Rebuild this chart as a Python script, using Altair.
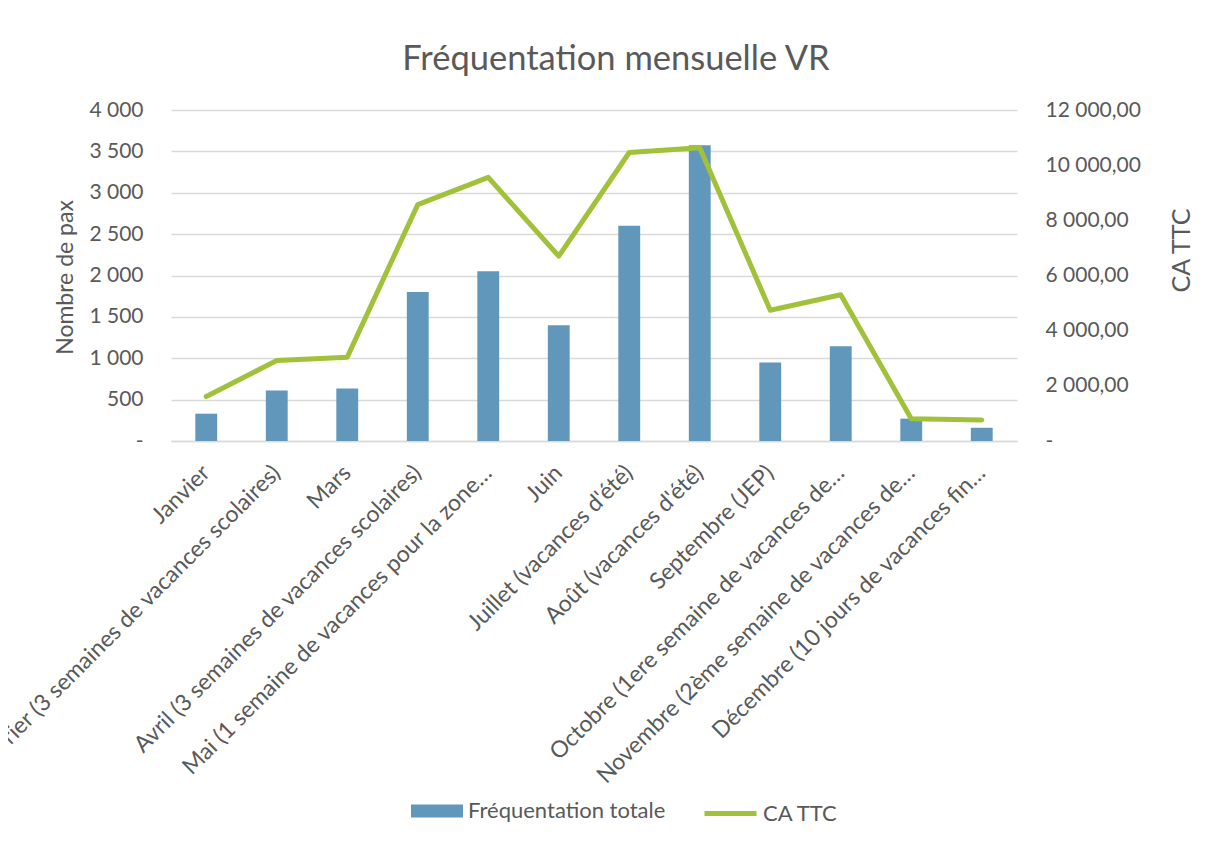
import altair as alt
import pandas as pd

months = [
    "Janvier",
    "Février (3 semaines de vacances scolaires)",
    "Mars",
    "Avril (3 semaines de vacances scolaires)",
    "Mai (1 semaine de vacances pour la zone…",
    "Juin",
    "Juillet (vacances d'été)",
    "Août (vacances d'été)",
    "Septembre (JEP)",
    "Octobre (1ere semaine de vacances de…",
    "Novembre (2ème semaine de vacances de…",
    "Décembre (10 jours de vacances fin…",
]
pax = [330, 610, 635, 1800, 2050, 1400, 2600, 3575, 950, 1145, 270, 160]
ca_ttc = [1610, 2920, 3040, 8570, 9560, 6700, 10460, 10630, 4740, 5300, 810, 765]
left_ticks = [0, 500, 1000, 1500, 2000, 2500, 3000, 3500, 4000]
right_ticks = [0, 2000, 4000, 6000, 8000, 10000, 12000]
series = ["Fréquentation totale", "CA TTC"]

df = pd.DataFrame({"mois": months, "pax": pax, "ca": ca_ttc})

FONT = "Lato"
GREY = "#595959"
BAR = "#6097ba"
LINE = "#a2c13b"

x_enc = alt.X(
    "mois:N",
    sort=None,
    title=None,
    scale=alt.Scale(paddingInner=0.69, paddingOuter=0.345),
    axis=alt.Axis(
        labelAngle=315,
        labelAlign="right",
        labelBaseline="middle",
        labelFontSize=23,
        labelColor=GREY,
        labelPadding=28,
        labelLimit=1000,
        ticks=False,
        domainColor="#d9d9d9",
        domainWidth=1.5,
        labelOverlap=False,
    ),
)

bars = alt.Chart(df).transform_calculate(serie=f"'{series[0]}'").mark_bar().encode(
    x=x_enc,
    y=alt.Y(
        "pax:Q",
        scale=alt.Scale(domain=[0, 4000], nice=False),
        axis=alt.Axis(
            values=left_ticks,
            title="Nombre de pax",
            titleFontSize=23,
            titleFontWeight="normal",
            titleColor=GREY,
            titleAngle=270,
            titleX=-106,
            titleY=167,
            titleAlign="center",
            titleBaseline="middle",
            labelExpr="datum.value == 0 ? '-' : replace(format(datum.value, ','), ',', ' ')",
            labelFontSize=21,
            labelColor=GREY,
            labelPadding=28,
            ticks=False,
            domain=False,
            grid=True,
            gridColor="#d9d9d9",
            gridWidth=1.5,
        ),
    ),
    fill=alt.Fill(
        "serie:N",
        scale=alt.Scale(domain=[series[0]], range=[BAR]),
        legend=alt.Legend(
            title=None,
            orient="none",
            legendX=240,
            legendY=675,
            symbolType="M-1,-0.25H1V0.25H-1Z",
            symbolSize=2704,
            symbolStrokeWidth=0,
            labelFontSize=22,
            labelColor=GREY,
            labelOffset=5,
            labelLimit=400,
            padding=0,
        ),
    ),
)

line = alt.Chart(df).transform_calculate(serie=f"'{series[1]}'").mark_line(
    strokeWidth=5, strokeCap="round", strokeJoin="round"
).encode(
    x=alt.X("mois:N", sort=None),
    y=alt.Y(
        "ca:Q",
        scale=alt.Scale(domain=[0, 12000], nice=False),
        axis=alt.Axis(
            orient="right",
            values=right_ticks,
            title="CA TTC",
            titleFontSize=25,
            titleFontWeight="normal",
            titleColor=GREY,
            titleAngle=270,
            titleX=164,
            titleY=140,
            titleAlign="center",
            titleBaseline="middle",
            labelExpr="datum.value == 0 ? '-' : replace(replace(format(datum.value, ',.2f'), ',', ' '), '.', ',')",
            labelFontSize=21,
            labelColor=GREY,
            labelPadding=28,
            ticks=False,
            domain=False,
            grid=False,
        ),
    ),
    stroke=alt.Stroke(
        "serie:N",
        scale=alt.Scale(domain=[series[1]], range=[LINE]),
        legend=alt.Legend(
            title=None,
            orient="none",
            legendX=531,
            legendY=675,
            symbolType="stroke",
            symbolSize=2704,
            symbolStrokeWidth=5,
            labelFontSize=22,
            labelColor=GREY,
            labelOffset=4,
            labelLimit=400,
            padding=0,
        ),
    ),
)

chart = (
    alt.layer(bars, line)
    .resolve_scale(y="independent", fill="independent", stroke="independent")
    .properties(
        width=846,
        height=331,
        title=alt.TitleParams(
            "Fréquentation mensuelle VR",
            fontSize=34.5,
            fontWeight="normal",
            color=GREY,
            anchor="middle",
            dx=22,
            dy=45,
            baseline="alphabetic",
            offset=40,
        ),
        padding={"left": 163, "top": 102, "right": 181, "bottom": 392},
        autosize=alt.AutoSizeParams(type="none"),
    )
    .configure(font=FONT)
    .configure_view(stroke=None)
)

chart.save("out.html", embed_options={"renderer": "svg", "actions": False})
